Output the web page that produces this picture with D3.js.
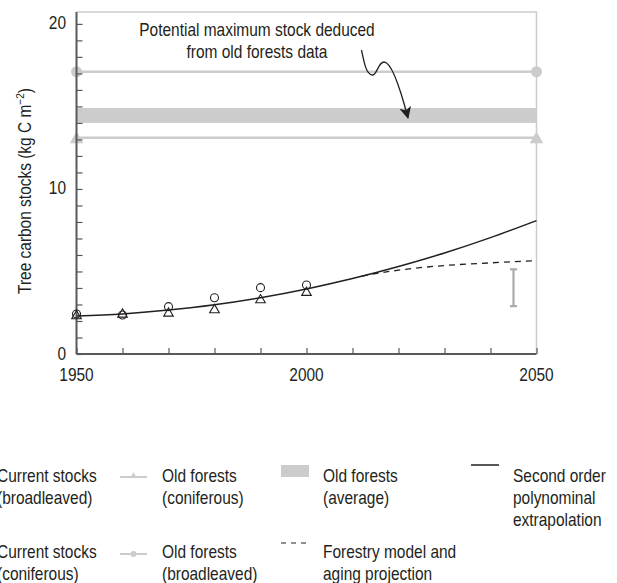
<!DOCTYPE html>
<html>
<head>
<meta charset="utf-8">
<script src="https://cdn.jsdelivr.net/npm/d3@7"></script>
<style>
  html, body { margin: 0; padding: 0; background: #fff; }
  svg { display: block; }
  text { font-family: "Liberation Sans", Arial, sans-serif; fill: #231f20; }
</style>
</head>
<body>
<svg id="chart" width="617" height="583"></svg>
<script>
// ---- Data ----
const years = [1950, 1960, 1970, 1980, 1990, 2000];
const broadleavedStocks = [2.42, 2.36, 2.87, 3.41, 4.02, 4.18];   // circles
const coniferousStocks  = [2.30, 2.40, 2.46, 2.67, 3.27, 3.72];   // triangles

const polyYears  = [1950, 1960, 1970, 1980, 1990, 2000, 2010, 2020, 2030, 2040, 2050];
const polyValues = [2.30, 2.43, 2.66, 2.98, 3.41, 3.94, 4.57, 5.30, 6.12, 7.05, 8.08];

const projYears  = [2012, 2020, 2030, 2040, 2050];
const projValues = [4.72, 5.08, 5.36, 5.52, 5.65];

const oldBroadleaved = 17.1;
const oldConiferous  = 13.1;
const oldAverageBand = [14.0, 14.9];

const errorBarYear  = 2045;
const errorBarRange = [2.9, 5.13];

const xTickLabels = [1950, 2000, 2050];
const yTickLabels = [0, 10, 20];

const legendLabels = {
  curBroad: ["Current stocks", "(broadleaved)"],
  curCon: ["Current stocks", "(coniferous)"],
  oldCon: ["Old forests", "(coniferous)"],
  oldBroad: ["Old forests", "(broadleaved)"],
  oldAvg: ["Old forests", "(average)"],
  model: ["Forestry model and", "aging projection"],
  poly: ["Second order", "polynominal", "extrapolation"]
};

// ---- Setup ----
const svg = d3.select("#chart");
const x = d3.scaleLinear().domain([1950, 2050]).range([76.5, 536.5]);
const y = d3.scaleLinear().domain([0, 20.72]).range([354, 12]);

const FS = 18;
const SX = 0.86;  // condensed look
const axisColor = "#58595b";
const lightGrey = "#cccccc";

// condensed multi-line text helper
function ctext(parent, xp, yp, lines, anchor = "start", lh = 22.5) {
  const g = parent.append("g").attr("transform", `translate(${xp},${yp}) scale(${SX},1)`);
  const t = g.append("text").attr("font-size", FS).attr("text-anchor", anchor);
  lines.forEach((s, i) => t.append("tspan").attr("x", 0).attr("y", i * lh).text(s));
  return t;
}

// Frame (light grey top and right)
svg.append("path")
  .attr("d", `M${x(1950)},${y(20.72)}H${x(2050)}V${y(0)}`)
  .attr("fill", "none").attr("stroke", lightGrey).attr("stroke-width", 1.5);

// Old forests average band
svg.append("rect")
  .attr("x", x(1950)).attr("width", x(2050) - x(1950))
  .attr("y", y(oldAverageBand[1])).attr("height", y(oldAverageBand[0]) - y(oldAverageBand[1]))
  .attr("fill", lightGrey);

// Old forests lines
[oldBroadleaved, oldConiferous].forEach(v => {
  svg.append("line")
    .attr("x1", x(1950)).attr("x2", x(2050))
    .attr("y1", y(v)).attr("y2", y(v))
    .attr("stroke", lightGrey).attr("stroke-width", 2.5);
});
[1950, 2050].forEach(yr => {
  svg.append("circle").attr("cx", x(yr)).attr("cy", y(oldBroadleaved)).attr("r", 5.5).attr("fill", lightGrey);
});
const triBig = d3.symbol().type(d3.symbolTriangle).size(80);
[1950, 2050].forEach(yr => {
  svg.append("path").attr("d", triBig())
    .attr("transform", `translate(${x(yr)},${y(oldConiferous) + 1.5})`)
    .attr("fill", lightGrey);
});

// Error bar
const eb = svg.append("g").attr("stroke", "#aaaaaa").attr("stroke-width", 2.2);
eb.append("line").attr("x1", x(errorBarYear)).attr("x2", x(errorBarYear))
  .attr("y1", y(errorBarRange[0])).attr("y2", y(errorBarRange[1]));
errorBarRange.forEach(v => {
  eb.append("line").attr("x1", x(errorBarYear) - 3.5).attr("x2", x(errorBarYear) + 3.5)
    .attr("y1", y(v)).attr("y2", y(v));
});

// Axes
const yAxis = d3.axisLeft(y).tickValues(d3.range(0, 21, 1)).tickSize(-6).tickFormat("");
const gy = svg.append("g").attr("transform", `translate(${x(1950)},0)`).call(yAxis);
gy.select(".domain").remove();
gy.selectAll(".tick line").attr("stroke", axisColor).attr("stroke-width", 1.2);
svg.append("line").attr("x1", x(1950)).attr("x2", x(1950)).attr("y1", y(20.72)).attr("y2", y(0))
  .attr("stroke", axisColor).attr("stroke-width", 2);

const xAxis = d3.axisBottom(x).tickValues(d3.range(1950, 2051, 10)).tickSize(-6).tickFormat("");
const gx = svg.append("g").attr("transform", `translate(0,${y(0)})`).call(xAxis);
gx.select(".domain").remove();
gx.selectAll(".tick line").attr("stroke", axisColor).attr("stroke-width", 1.2);
svg.append("line").attr("x1", x(1950)).attr("x2", x(2050)).attr("y1", y(0)).attr("y2", y(0))
  .attr("stroke", axisColor).attr("stroke-width", 2);

// Tick labels
yTickLabels.forEach(v => ctext(svg, x(1950) - 10.5, y(v) + 5.5, [String(v)], "end"));
xTickLabels.forEach(v => ctext(svg, x(v), y(0) + 27, [String(v)], "middle"));

// Y axis title
const ytg = svg.append("g")
  .attr("transform", `translate(30.5,${(y(0) + y(20.72)) / 2 + 8}) rotate(-90) scale(${SX},1)`);
const yt = ytg.append("text").attr("text-anchor", "middle").attr("font-size", FS);
yt.append("tspan").text("Tree carbon stocks (kg C m");
yt.append("tspan").attr("font-size", FS * 0.65).attr("dy", -7).text("\u22122");
yt.append("tspan").attr("dy", 7).text(")");

// Polynomial extrapolation
const line = d3.line().x(d => x(d[0])).y(d => y(d[1])).curve(d3.curveMonotoneX);
svg.append("path").datum(d3.zip(polyYears, polyValues))
  .attr("d", line).attr("fill", "none").attr("stroke", "#231f20").attr("stroke-width", 1.5);

// Forestry model projection (dashed)
svg.append("path").datum(d3.zip(projYears, projValues))
  .attr("d", line).attr("fill", "none").attr("stroke", "#231f20").attr("stroke-width", 1.3)
  .attr("stroke-dasharray", "6,5");

// Data points
svg.selectAll(".bl").data(d3.zip(years, broadleavedStocks)).join("circle")
  .attr("cx", d => x(d[0])).attr("cy", d => y(d[1])).attr("r", 4)
  .attr("fill", "none").attr("stroke", "#231f20").attr("stroke-width", 1.1);
const triSmall = d3.symbol().type(d3.symbolTriangle).size(40);
svg.selectAll(".cf").data(d3.zip(years, coniferousStocks)).join("path")
  .attr("d", triSmall())
  .attr("transform", d => `translate(${x(d[0])},${y(d[1])})`)
  .attr("fill", "none").attr("stroke", "#231f20").attr("stroke-width", 1.1);

// Annotation
ctext(svg, 257, 36, ["Potential maximum stock deduced", "from old forests data"], "middle", 22.5);

// Squiggly arrow
svg.append("defs").append("marker")
  .attr("id", "arrowhead").attr("viewBox", "0 0 12 12").attr("refX", 11).attr("refY", 6)
  .attr("markerWidth", 12).attr("markerHeight", 12).attr("markerUnits", "userSpaceOnUse")
  .attr("orient", "auto")
  .append("path").attr("d", "M0,0 L12,6 L0,12 L3,6 Z").attr("fill", "#231f20");
svg.append("path")
  .attr("d", "M361.5,50 C364,62 366,74 372,75 C377,76 378,62 384,62 C392,62 402,95 408,118")
  .attr("fill", "none").attr("stroke", "#231f20").attr("stroke-width", 1.3)
  .attr("marker-end", "url(#arrowhead)");

// ---- Legend ----
const LG = svg.append("g");
const row1 = 481.5, row2 = 558;
// Current stocks (markers lie left of the visible area)
LG.append("circle").attr("cx", -20).attr("cy", row1 - 5).attr("r", 4).attr("fill", "none").attr("stroke", "#231f20");
ctext(LG, -3, row1, legendLabels.curBroad);
LG.append("path").attr("d", triSmall()).attr("transform", `translate(-20,${row2 - 5})`).attr("fill", "none").attr("stroke", "#231f20");
ctext(LG, -3, row2, legendLabels.curCon);

// Old forests coniferous
LG.append("line").attr("x1", 120).attr("x2", 147).attr("y1", row1 - 4.5).attr("y2", row1 - 4.5)
  .attr("stroke", lightGrey).attr("stroke-width", 2);
LG.append("path").attr("d", d3.symbol().type(d3.symbolTriangle).size(18)()).attr("transform", `translate(133.5,${row1 - 5.5})`).attr("fill", lightGrey);
ctext(LG, 162, row1, legendLabels.oldCon);
// Old forests broadleaved
LG.append("line").attr("x1", 120).attr("x2", 147).attr("y1", row2 - 4).attr("y2", row2 - 4)
  .attr("stroke", lightGrey).attr("stroke-width", 2);
LG.append("circle").attr("cx", 133.5).attr("cy", row2 - 4).attr("r", 3).attr("fill", lightGrey);
ctext(LG, 162, row2, legendLabels.oldBroad);

// Old forests average
LG.append("rect").attr("x", 281).attr("y", 465).attr("width", 28).attr("height", 12).attr("fill", lightGrey);
ctext(LG, 323, row1, legendLabels.oldAvg);
// Forestry model
LG.append("line").attr("x1", 281).attr("x2", 310).attr("y1", 543).attr("y2", 543)
  .attr("stroke", "#231f20").attr("stroke-width", 1.2).attr("stroke-dasharray", "5,5");
ctext(LG, 323, row2, legendLabels.model);
// Second order
LG.append("line").attr("x1", 471).attr("x2", 499).attr("y1", 465).attr("y2", 465)
  .attr("stroke", "#231f20").attr("stroke-width", 1.5);
ctext(LG, 513, row1, legendLabels.poly);
</script>
</body>
</html>
